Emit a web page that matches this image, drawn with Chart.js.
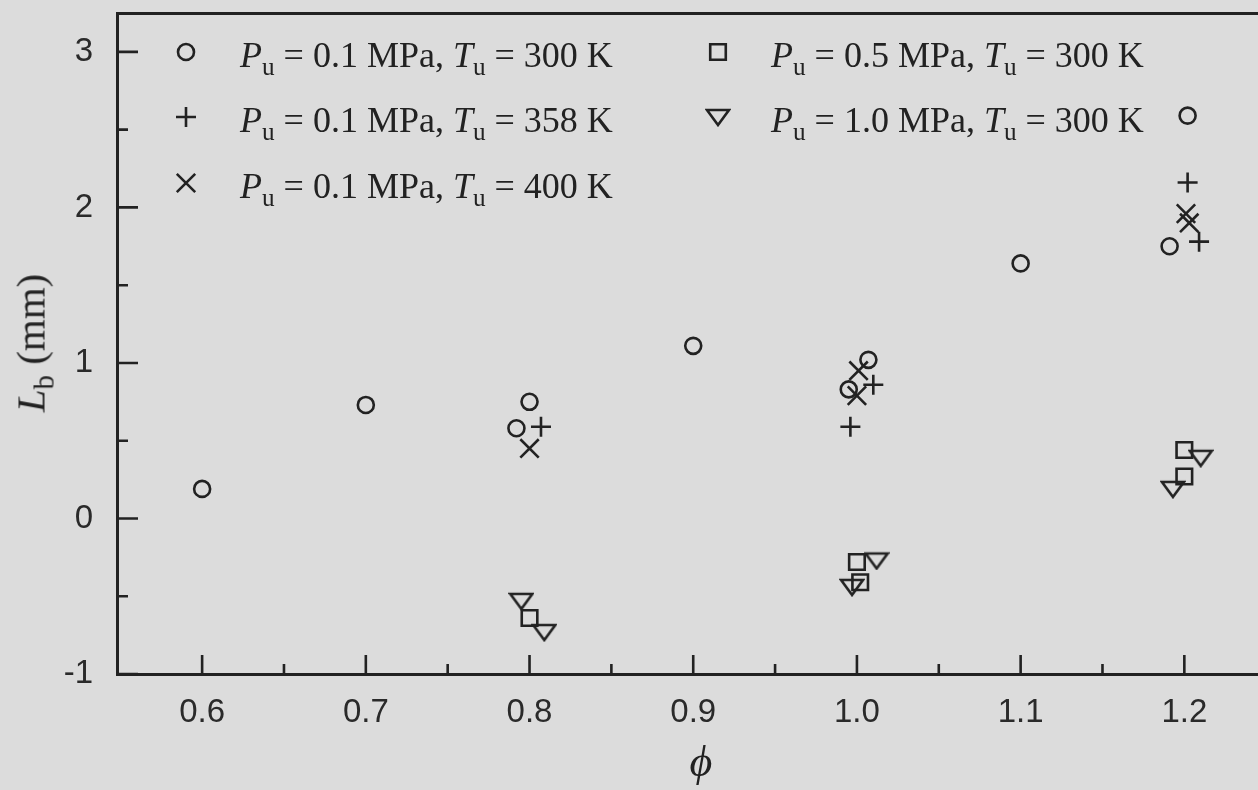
<!DOCTYPE html>
<html lang="en">
<head>
<meta charset="UTF-8">
<title>Lb versus equivalence ratio</title>
<script src="https://cdn.jsdelivr.net/npm/chart.js"></script>
<style>
  html, body { margin: 0; padding: 0; background: #dcdcdc; }
  #wrap { position: relative; width: 1258px; height: 790px; overflow: hidden; background: #dcdcdc; }
  #plot { position: absolute; left: 0; top: 0; }
  .txt {
    position: absolute;
    font-family: "Liberation Serif", "DejaVu Serif", serif;
    color: #222;
    white-space: nowrap;
    line-height: 1;
  }
  .txt sub { font-size: 0.7em; vertical-align: -0.32em; line-height: 0; }
  .leg { font-size: 36px; }
  #ytitle { left: 31px; top: 343px; font-size: 41px; transform: translate(-50%, -50%) rotate(-90deg); }
  #xtitle { left: 701px; top: 762px; font-size: 44px; transform: translate(-50%, -50%); }
</style>
</head>
<body>
<div id="wrap">
  <canvas id="plot" width="1258" height="790"></canvas>
  <div class="txt leg" style="left:240px; top:37px"><i>P</i><sub>u</sub> = 0.1 MPa, <i>T</i><sub>u</sub> = 300 K</div>
  <div class="txt leg" style="left:240px; top:102px"><i>P</i><sub>u</sub> = 0.1 MPa, <i>T</i><sub>u</sub> = 358 K</div>
  <div class="txt leg" style="left:240px; top:168px"><i>P</i><sub>u</sub> = 0.1 MPa, <i>T</i><sub>u</sub> = 400 K</div>
  <div class="txt leg" style="left:771px; top:37px"><i>P</i><sub>u</sub> = 0.5 MPa, <i>T</i><sub>u</sub> = 300 K</div>
  <div class="txt leg" style="left:771px; top:102px"><i>P</i><sub>u</sub> = 1.0 MPa, <i>T</i><sub>u</sub> = 300 K</div>
  <div class="txt" id="ytitle"><i>L</i><sub>b</sub> (mm)</div>
  <div class="txt" id="xtitle"><i>&#981;</i></div>
</div>

<script>
// equivalence ratio (phi) and burned-gas thickness Lb (mm) per condition
const phi_01MPa_300K = [0.600, 0.700, 0.800, 0.792, 0.900, 0.995, 1.007, 1.100, 1.191, 1.202];
const lb_01MPa_300K  = [0.19, 0.73, 0.75, 0.58, 1.11, 0.83, 1.02, 1.64, 1.75, 2.59];
const phi_01MPa_358K = [0.807, 0.996, 1.010, 1.202, 1.209];
const lb_01MPa_358K  = [0.59, 0.59, 0.86, 2.16, 1.78];
const phi_01MPa_400K = [0.800, 1.001, 1.000, 1.201, 1.203];
const lb_01MPa_400K  = [0.45, 0.95, 0.79, 1.96, 1.90];
const phi_05MPa_300K = [0.800, 1.000, 1.002, 1.200, 1.200];
const lb_05MPa_300K  = [-0.64, -0.28, -0.41, 0.44, 0.27];
const phi_10MPa_300K = [0.795, 0.809, 1.012, 0.997, 1.210, 1.193];
const lb_10MPa_300K  = [-0.53, -0.73, -0.27, -0.44, 0.39, 0.19];

const phiTicks = [0.6, 0.7, 0.8, 0.9, 1.0, 1.1, 1.2];
const phiMinor = [0.65, 0.75, 0.85, 0.95, 1.05, 1.15];
const lbTicks = [-1, 0, 1, 2, 3];
const lbMinor = [-0.5, 0.5, 1.5, 2.5];

const ink = '#222';
const lineW = 2.6;

function pts(xs, ys) {
  return xs.map((v, i) => ({ x: v, y: ys[i] }));
}

// downward open triangle marker
function makeTriangle() {
  const c = document.createElement('canvas');
  c.width = 26; c.height = 20;
  const g = c.getContext('2d');
  g.strokeStyle = ink;
  g.lineWidth = lineW;
  g.beginPath();
  g.moveTo(2, 3); g.lineTo(24, 3); g.lineTo(13, 18); g.closePath();
  g.stroke();
  return c;
}
const triangle = makeTriangle();

const markers = [
  { pointStyle: 'circle', pointRadius: 8 },
  { pointStyle: 'cross', pointRadius: 10 },
  { pointStyle: 'crossRot', pointRadius: 13 },
  { pointStyle: 'rect', pointRadius: 11 },
  { pointStyle: triangle, pointRadius: 10 }
];

const series = [
  pts(phi_01MPa_300K, lb_01MPa_300K),
  pts(phi_01MPa_358K, lb_01MPa_358K),
  pts(phi_01MPa_400K, lb_01MPa_400K),
  pts(phi_05MPa_300K, lb_05MPa_300K),
  pts(phi_10MPa_300K, lb_10MPa_300K)
];

const datasets = series.map((d, i) => Object.assign({
  data: d,
  showLine: false,
  borderColor: ink,
  backgroundColor: 'rgba(0,0,0,0)',
  pointBorderWidth: lineW,
  pointHoverRadius: markers[i].pointRadius
}, markers[i]));

// tick marks point into the plot area
const innerTicks = {
  id: 'innerTicks',
  afterDraw(chart) {
    const { ctx, chartArea: a, scales: { x, y } } = chart;
    ctx.save();
    ctx.strokeStyle = ink;
    ctx.lineWidth = 2.6;
    ctx.beginPath();
    phiTicks.forEach(v => { const p = x.getPixelForValue(v); ctx.moveTo(p, a.bottom); ctx.lineTo(p, a.bottom - 19); });
    phiMinor.forEach(v => { const p = x.getPixelForValue(v); ctx.moveTo(p, a.bottom); ctx.lineTo(p, a.bottom - 10); });
    lbTicks.forEach(v => { const p = y.getPixelForValue(v); ctx.moveTo(a.left, p); ctx.lineTo(a.left + 21, p); });
    lbMinor.forEach(v => { const p = y.getPixelForValue(v); ctx.moveTo(a.left, p); ctx.lineTo(a.left + 11, p); });
    ctx.stroke();
    ctx.restore();
  }
};

// legend symbols, text sits in the html labels next to them
const legendMarks = {
  id: 'legendMarks',
  afterDraw(chart) {
    const ctx = chart.ctx;
    const spots = [[186, 52], [186, 117], [186, 183], [718, 52], [718, 117]];
    ctx.save();
    ctx.strokeStyle = ink;
    ctx.lineWidth = lineW;
    spots.forEach(([cx, cy], i) => {
      const m = markers[i];
      const r = m.pointRadius;
      ctx.beginPath();
      if (m.pointStyle === 'circle') {
        ctx.arc(cx, cy, r, 0, Math.PI * 2);
      } else if (m.pointStyle === 'cross') {
        ctx.moveTo(cx - r, cy); ctx.lineTo(cx + r, cy);
        ctx.moveTo(cx, cy - r); ctx.lineTo(cx, cy + r);
      } else if (m.pointStyle === 'crossRot') {
        const d = r * Math.SQRT1_2;
        ctx.moveTo(cx - d, cy - d); ctx.lineTo(cx + d, cy + d);
        ctx.moveTo(cx - d, cy + d); ctx.lineTo(cx + d, cy - d);
      } else if (m.pointStyle === 'rect') {
        const s = r * Math.SQRT1_2;
        ctx.rect(cx - s, cy - s, 2 * s, 2 * s);
      } else {
        ctx.drawImage(triangle, cx - 13, cy - 10);
      }
      ctx.stroke();
    });
    ctx.restore();
  }
};

const tickFont = { family: '"Liberation Sans", Arial, sans-serif', size: 33 };

// keep the plot frame fixed: no room reserved for end labels
function noPad(s) {
  s.paddingTop = 0; s.paddingBottom = 0; s.paddingLeft = 0; s.paddingRight = 0;
}

new Chart(document.getElementById('plot'), {
  type: 'scatter',
  data: { datasets: datasets },
  options: {
    responsive: false,
    animation: false,
    layout: { autoPadding: false, padding: { top: 13, right: 0, bottom: 0, left: 0 } },
    plugins: { legend: { display: false }, tooltip: { enabled: false } },
    scales: {
      x: {
        type: 'linear',
        position: 'bottom',
        min: 0.548,
        max: 1.245,
        afterBuildTicks: s => { s.ticks = phiTicks.map(v => ({ value: v })); },
        afterFit: s => { s.height = 116; noPad(s); },
        grid: { display: false, drawTicks: false },
        border: { display: true, color: ink, width: 3 },
        ticks: { font: tickFont, color: '#2a2a2a', padding: 19, maxRotation: 0, callback: v => v.toFixed(1) }
      },
      xTop: {
        axis: 'x',
        type: 'linear',
        position: 'top',
        min: 0.548,
        max: 1.245,
        afterFit: s => { s.height = 0; noPad(s); },
        grid: { display: false, drawTicks: false },
        border: { display: true, color: ink, width: 3 },
        ticks: { display: false }
      },
      y: {
        type: 'linear',
        min: -1,
        max: 3.25,
        afterBuildTicks: s => { s.ticks = lbTicks.map(v => ({ value: v })); },
        afterFit: s => { s.width = 117; noPad(s); },
        grid: { display: false, drawTicks: false },
        border: { display: true, color: ink, width: 3 },
        ticks: { font: tickFont, color: '#2a2a2a', padding: 24, callback: v => String(v) }
      }
    }
  },
  plugins: [innerTicks, legendMarks]
});
</script>
</body>
</html>
